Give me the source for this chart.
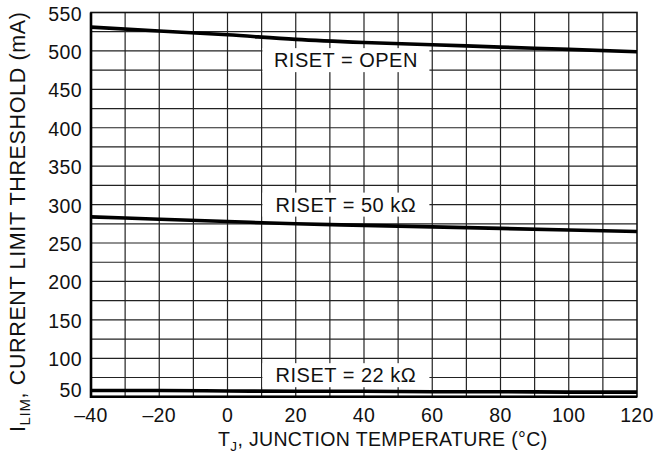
<!DOCTYPE html>
<html>
<head>
<meta charset="utf-8">
<script src="https://cdn.jsdelivr.net/npm/d3@7"></script>
<style>
  body { margin: 0; background: #fff; }
  svg text { font-family: "Liberation Sans", Arial, sans-serif; fill: #111; }
</style>
</head>
<body>
<div id="chart"></div>
<script>
// Data (temperature in °C, current in mA)
const temps = [-40, -20, 0, 20, 40, 60, 80, 100, 120];
const riset_open = [531, 526, 521, 515, 511, 508, 505, 502, 499];
const riset_50k = [284, 281, 278, 275, 273, 271, 269, 267, 265];
const riset_22k = [58, 58, 57.5, 57, 57, 56.5, 56.5, 56, 56];

const xTicks = [-40, -20, 0, 20, 40, 60, 80, 100, 120];
const yTicks = [50, 100, 150, 200, 250, 300, 350, 400, 450, 500, 550];

// label text with the point (temp, mA) each box is centred on
const labels = [
  { text: "RISET = OPEN", t: 34.7, v: 488 },
  { text: "RISET = 50 k\u03A9", t: 34.7, v: 300 },
  { text: "RISET = 22 k\u03A9", t: 34.7, v: 78 }
];

const width = 657;
const height = 466;
const margin = { top: 12.5, right: 20, bottom: 69.3, left: 91 };

const xScale = d3
  .scaleLinear()
  .domain([-40, 120])
  .range([margin.left, width - margin.right]);

const yScale = d3
  .scaleLinear()
  .domain([50, 550])
  .range([height - margin.bottom, margin.top]);

const svg = d3
  .select("#chart")
  .append("svg")
  .attr("width", width)
  .attr("height", height);

// grid, every 10 °C and every 25 mA
const grid = svg.append("g").attr("class", "grid");
grid
  .selectAll(".vgrid")
  .data(d3.range(-30, 120, 10))
  .enter()
  .append("line")
  .attr("x1", d => xScale(d))
  .attr("x2", d => xScale(d))
  .attr("y1", yScale(550))
  .attr("y2", yScale(50))
  .attr("stroke", "#222")
  .attr("stroke-width", 1.2);
grid
  .selectAll(".hgrid")
  .data(d3.range(75, 550, 25))
  .enter()
  .append("line")
  .attr("x1", xScale(-40))
  .attr("x2", xScale(120))
  .attr("y1", d => yScale(d))
  .attr("y2", d => yScale(d))
  .attr("stroke", "#222")
  .attr("stroke-width", 1.2);

// frame
svg
  .append("rect")
  .attr("x", xScale(-40))
  .attr("y", yScale(550))
  .attr("width", xScale(120) - xScale(-40))
  .attr("height", yScale(50) - yScale(550))
  .attr("fill", "none")
  .attr("stroke", "#111")
  .attr("stroke-width", 1.6);
svg
  .append("path")
  .attr(
    "d",
    "M" + xScale(-40) + "," + yScale(550) +
      "V" + yScale(50) + "H" + xScale(120)
  )
  .attr("fill", "none")
  .attr("stroke", "#000")
  .attr("stroke-width", 2.6);

// label boxes (white, hide the grid behind them)
const labelG = svg
  .selectAll(".curve-label")
  .data(labels)
  .enter()
  .append("g")
  .attr("class", "curve-label");
labelG
  .append("rect")
  .attr("x", d => xScale(d.t) - 83.5)
  .attr("y", d => yScale(d.v) - 12)
  .attr("width", 167)
  .attr("height", 24)
  .attr("fill", "#fff");
labelG
  .append("text")
  .attr("x", d => xScale(d.t))
  .attr("y", d => yScale(d.v))
  .attr("dy", "0.36em")
  .attr("text-anchor", "middle")
  .attr("font-size", "20px")
  .attr("letter-spacing", "0.5px")
  .text(d => d.text);

// curves
const line = d3
  .line()
  .x((d, i) => xScale(temps[i]))
  .y(d => yScale(d))
  .curve(d3.curveMonotoneX);

[riset_open, riset_50k, riset_22k].forEach(function(series) {
  svg
    .append("path")
    .datum(series)
    .attr("d", line)
    .attr("fill", "none")
    .attr("stroke", "#000")
    .attr("stroke-width", 3.6);
});

// tick labels
const fmt = d => (d < 0 ? "\u2013" + Math.abs(d) : String(d));
svg
  .selectAll(".xtick")
  .data(xTicks)
  .enter()
  .append("text")
  .attr("x", d => xScale(d))
  .attr("y", 415)
  .attr("dy", "0.36em")
  .attr("text-anchor", "middle")
  .attr("font-size", "19.5px")
  .attr("letter-spacing", "0.4px")
  .text(fmt);

svg
  .selectAll(".ytick")
  .data(yTicks)
  .enter()
  .append("text")
  .attr("x", margin.left - 9)
  .attr("y", d => yScale(d) + (d === 50 ? -6.5 : 1))
  .attr("dy", "0.36em")
  .attr("text-anchor", "end")
  .attr("font-size", "19.5px")
  .attr("letter-spacing", "0.4px")
  .text(d => d);

// axis titles
const xTitle = svg
  .append("text")
  .attr("x", 218)
  .attr("y", 439)
  .attr("dy", "0.36em")
  .attr("font-size", "19.5px")
  .attr("letter-spacing", "0.35px");
xTitle.append("tspan").text("T");
xTitle
  .append("tspan")
  .attr("font-size", "13.5px")
  .attr("dy", 5)
  .text("J");
xTitle
  .append("tspan")
  .attr("dy", -5)
  .text(", JUNCTION TEMPERATURE (\u00B0C)");

const yTitle = svg
  .append("text")
  .attr("transform", "translate(17,432) rotate(-90)")
  .attr("dy", "0.36em")
  .attr("font-size", "21.5px")
  .attr("textLength", 420)
  .attr("lengthAdjust", "spacing");
yTitle.append("tspan").text("I");
yTitle
  .append("tspan")
  .attr("font-size", "15px")
  .attr("dy", 5)
  .text("LIM");
yTitle
  .append("tspan")
  .attr("dy", -5)
  .text(", CURRENT LIMIT THRESHOLD (mA)");
</script>
</body>
</html>
